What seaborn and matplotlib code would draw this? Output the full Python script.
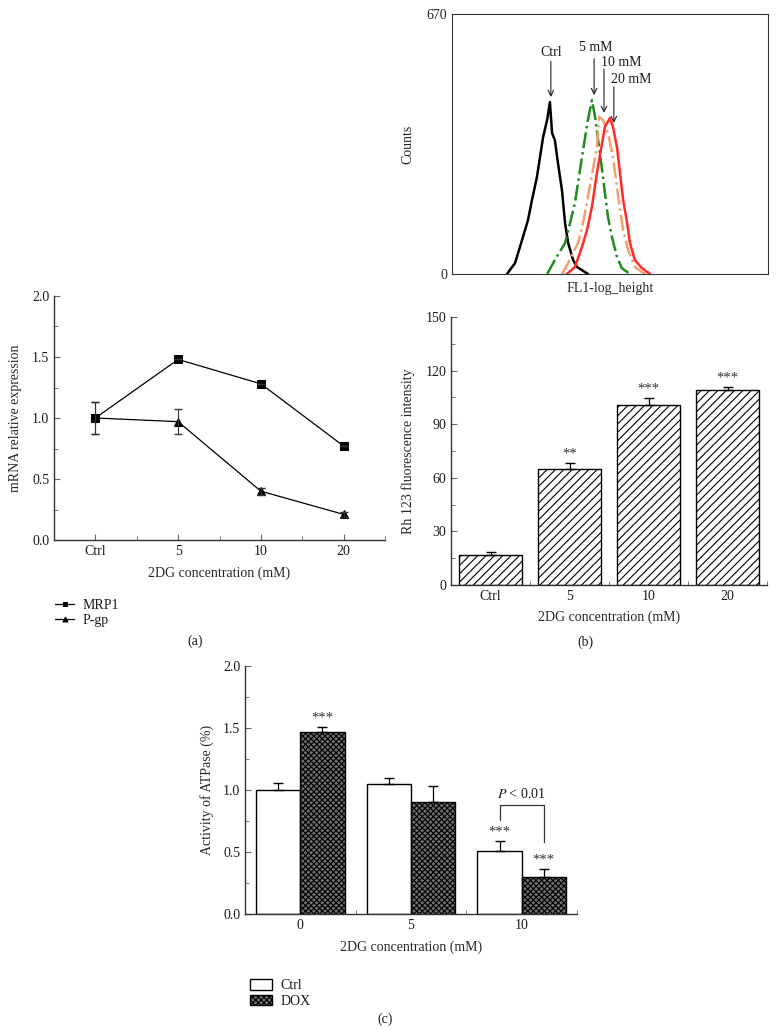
import matplotlib
matplotlib.use("Agg")
import matplotlib.pyplot as plt
from matplotlib.ticker import MultipleLocator
import pandas as pd
import seaborn as sns

# (a) mRNA relative expression
doses = ["Ctrl", "5", "10", "20"]
mrp1 = [1.00, 1.48, 1.28, 0.77]
mrp1_err = [0.13, 0.0, 0.0, 0.0]
pgp = [1.00, 0.97, 0.40, 0.21]
pgp_err = [0.13, 0.10, 0.03, 0.02]

# (b) Rh 123 fluorescence
rh123 = [16.8, 64.8, 100.9, 109.1]
rh123_err = [1.9, 3.4, 3.9, 1.7]
rh123_sig = ["", "**", "***", "***"]

# (c) ATPase activity
atp_doses = ["0", "5", "10"]
atp_ctrl = [1.00, 1.05, 0.51]
atp_ctrl_err = [0.06, 0.05, 0.08]
atp_dox = [1.47, 0.90, 0.30]
atp_dox_err = [0.04, 0.13, 0.06]
atp_ctrl_sig = ["", "", "***"]
atp_dox_sig = ["***", "", "***"]

# flow cytometry histogram (channel, counts)
ctrl_ch = [178, 204, 227, 246, 259, 275, 285, 295, 308, 317, 324, 333, 343, 356, 366, 376, 392, 405, 440]
ctrl_cnt = [0, 28, 88, 139, 191, 250, 302, 353, 397, 443, 363, 345, 286, 216, 131, 80, 36, 18, 0]
mm5_ch = [308, 333, 366, 382, 398, 408, 421, 431, 440, 453, 463, 473, 486, 495, 505, 518, 534, 550, 576]
mm5_cnt = [0, 36, 80, 131, 183, 235, 302, 353, 397, 448, 405, 345, 268, 209, 147, 95, 44, 15, 0]
mm10_ch = [356, 376, 408, 424, 440, 456, 469, 476, 489, 505, 521, 534, 544, 554, 570, 592, 625]
mm10_cnt = [0, 28, 80, 131, 198, 268, 327, 405, 397, 363, 302, 224, 165, 113, 62, 18, 0]
mm20_ch = [372, 398, 421, 437, 453, 469, 486, 495, 511, 521, 534, 544, 554, 567, 576, 592, 615, 641]
mm20_cnt = [0, 18, 70, 113, 173, 260, 338, 379, 402, 379, 327, 260, 191, 131, 80, 36, 15, 0]

sns.set_style("ticks")
plt.rcParams["font.family"] = ["Liberation Serif", "DejaVu Serif"]
plt.rcParams["mathtext.fontset"] = "stix"
plt.rcParams["font.size"] = 10
plt.rcParams["hatch.linewidth"] = 0.8
plt.rcParams["text.color"] = "#1a1a1a"

W, H = 776, 1033
fig = plt.figure(figsize=(W / 100, H / 100), dpi=100)


def box(l, t, r, b):
    return fig.add_axes([l / W, 1 - b / H, (r - l) / W, (b - t) / H])


def style_axes(ax):
    sns.despine(ax=ax)
    for s in ["left", "bottom"]:
        ax.spines[s].set_color("#333333")
        ax.spines[s].set_linewidth(1.0)
    ax.tick_params(which="both", direction="in", color="#666666", labelcolor="#1a1a1a", labelsize=10)
    ax.tick_params(which="major", length=4)
    ax.tick_params(which="minor", length=3)


# ---------- histogram ----------
axh = box(452, 14, 768, 274)
sns.lineplot(x=ctrl_ch, y=ctrl_cnt, color="black", lw=1.8, ax=axh)
sns.lineplot(x=mm5_ch, y=mm5_cnt, color="#1e8c1e", lw=1.8, linestyle="-.", ax=axh)
sns.lineplot(x=mm10_ch, y=mm10_cnt, color="#f4a070", lw=1.8, linestyle="-.", ax=axh)
sns.lineplot(x=mm20_ch, y=mm20_cnt, color="#ff2a2a", lw=1.8, ax=axh)
axh.set_xlim(0, 1023)
axh.set_ylim(0, 670)
axh.set_xticks([])
axh.set_yticks([0, 670])
axh.tick_params(length=0, labelsize=10)
for s in axh.spines.values():
    s.set_color("#333333")
axh.set_ylabel("Counts")
axh.yaxis.set_label_coords(-0.12, 0.5)
axh.set_xlabel("FL1-log_height")
axh.xaxis.set_label_coords(0.5, -0.03)
arr = dict(arrowstyle="->", lw=0.8, color="#222222", shrinkA=0, shrinkB=0)
axh.text(320, 572, "Ctrl", ha="center", va="center")
axh.annotate("", xy=(320, 456), xytext=(320, 548), arrowprops=arr)
axh.text(466, 583, "5 mM", ha="center", va="center")
axh.annotate("", xy=(460, 461), xytext=(460, 555), arrowprops=arr)
axh.text(482, 546, "10 mM", ha="left", va="center")
axh.annotate("", xy=(492, 415), xytext=(492, 528), arrowprops=arr)
axh.text(514, 500, "20 mM", ha="left", va="center")
axh.annotate("", xy=(524, 389), xytext=(524, 482), arrowprops=arr)

# ---------- (a) ----------
axa = box(54, 296, 385, 540)
pos = list(range(len(doses)))
df_a = pd.DataFrame({"pos": pos * 2, "val": mrp1 + pgp,
                     "gene": ["MRP1"] * 4 + ["P-gp"] * 4})
sns.lineplot(data=df_a[df_a.gene == "MRP1"], x="pos", y="val", color="black", lw=0.9,
             marker="s", markersize=5.5, mec="black", label="MRP1", ax=axa)
sns.lineplot(data=df_a[df_a.gene == "P-gp"], x="pos", y="val", color="black", lw=0.9,
             marker="^", markersize=6, mec="black", label="P-gp", ax=axa)
axa.errorbar(pos, mrp1, yerr=mrp1_err, fmt="none", ecolor="#333333", elinewidth=0.8, capsize=3)
axa.errorbar(pos, pgp, yerr=pgp_err, fmt="none", ecolor="#333333", elinewidth=0.8, capsize=3)
axa.set_xlim(-0.5, 3.5)
axa.set_ylim(0, 2.0)
axa.set_xticks(pos)
axa.set_xticklabels(doses)
axa.xaxis.set_minor_locator(MultipleLocator(1, offset=0.5))
axa.yaxis.set_major_locator(MultipleLocator(0.5))
axa.yaxis.set_minor_locator(MultipleLocator(0.25))
axa.yaxis.set_major_formatter(matplotlib.ticker.FormatStrFormatter("%.1f"))
style_axes(axa)
axa.set_ylabel("mRNA relative expression")
axa.yaxis.set_label_coords(-0.097, 0.5)
axa.set_xlabel("2DG concentration (mM)")
axa.xaxis.set_label_coords(0.5, -0.107)
h, l = axa.get_legend_handles_labels()
axa.legend(h, l, loc="upper left", bbox_to_anchor=(48 / W, 1 - 592 / H),
           bbox_transform=fig.transFigure, frameon=False, handlelength=1.4,
           handletextpad=0.6, labelspacing=0.15, borderpad=0, fontsize=10, markerscale=0.6)
fig.text(195 / W, 1 - 641 / H, "(a)", ha="center", va="center")

# ---------- (b) ----------
axb = box(451, 317, 767, 585)
sns.barplot(x=doses, y=rh123, color="white", edgecolor="black", linewidth=1.0,
            hatch="////", width=0.8, ax=axb)
bar_x = [p.get_x() + p.get_width() / 2 for p in axb.patches]
axb.errorbar(bar_x, rh123, yerr=[[0] * 4, rh123_err], fmt="none", ecolor="black",
             elinewidth=0.9, capsize=3.5)
for x, v, e, s in zip(bar_x, rh123, rh123_err, rh123_sig):
    if s:
        axb.text(x, v + e + 1.5, s, ha="center", va="bottom", fontsize=10.5, color="#333333")
axb.set_xlim(-0.5, 3.5)
axb.set_ylim(0, 150)
axb.yaxis.set_major_locator(MultipleLocator(30))
axb.yaxis.set_minor_locator(MultipleLocator(15))
axb.xaxis.set_minor_locator(MultipleLocator(1, offset=0.5))
style_axes(axb)
axb.set_ylabel("Rh 123 fluorescence intensity")
axb.yaxis.set_label_coords(-0.114, 0.5)
axb.set_xlabel("2DG concentration (mM)")
axb.xaxis.set_label_coords(0.5, -0.097)
fig.text(585 / W, 1 - 642 / H, "(b)", ha="center", va="center")

# ---------- (c) ----------
axc = box(245, 666, 577, 914)
df_c = pd.DataFrame({"dose": atp_doses * 2, "val": atp_ctrl + atp_dox,
                     "grp": ["Ctrl"] * 3 + ["DOX"] * 3})
sns.barplot(data=df_c, x="dose", y="val", hue="grp", palette={"Ctrl": "white", "DOX": "#6e6e6e"},
            edgecolor="black", linewidth=1.0, width=0.8, legend=False, ax=axc)
for p in axc.containers[1]:
    p.set_hatch("xxxxxx")
for cont, vals, errs, sigs in [(axc.containers[0], atp_ctrl, atp_ctrl_err, atp_ctrl_sig),
                               (axc.containers[1], atp_dox, atp_dox_err, atp_dox_sig)]:
    xs = [p.get_x() + p.get_width() / 2 for p in cont]
    axc.errorbar(xs, vals, yerr=[[0] * 3, errs], fmt="none", ecolor="black",
                 elinewidth=0.9, capsize=3.5)
    for x, v, e, s in zip(xs, vals, errs, sigs):
        if s:
            axc.text(x, v + e + 0.02, s, ha="center", va="bottom", fontsize=10.5, color="#333333")
# bracket between Ctrl and DOX at 10 mM
x1 = axc.containers[0][2].get_x() + axc.containers[0][2].get_width() / 2
x2 = axc.containers[1][2].get_x() + axc.containers[1][2].get_width() / 2
axc.plot([x1, x1, x2, x2], [0.76, 0.88, 0.88, 0.58], color="#333333", lw=0.9)
axc.text((x1 + x2) / 2, 0.91, "$P$ < 0.01", ha="center", va="bottom", fontsize=10)
axc.set_xlim(-0.5, 2.5)
axc.set_ylim(0, 2.0)
axc.yaxis.set_major_locator(MultipleLocator(0.5))
axc.yaxis.set_minor_locator(MultipleLocator(0.25))
axc.yaxis.set_major_formatter(matplotlib.ticker.FormatStrFormatter("%.1f"))
axc.xaxis.set_minor_locator(MultipleLocator(1, offset=0.5))
style_axes(axc)
axc.set_ylabel("Activity of ATPase (%)")
axc.yaxis.set_label_coords(-0.093, 0.5)
axc.set_xlabel("2DG concentration (mM)")
axc.xaxis.set_label_coords(0.5, -0.105)
axc.legend([axc.containers[0][0], axc.containers[1][0]], ["Ctrl", "DOX"], loc="upper left",
           bbox_to_anchor=(243 / W, 1 - 972 / H), bbox_transform=fig.transFigure,
           frameon=False, handlelength=1.6, handleheight=0.8, handletextpad=0.6,
           labelspacing=0.2, borderpad=0, fontsize=10)
fig.text(385 / W, 1 - 1019 / H, "(c)", ha="center", va="center")

fig.savefig("out.png", dpi=100)
